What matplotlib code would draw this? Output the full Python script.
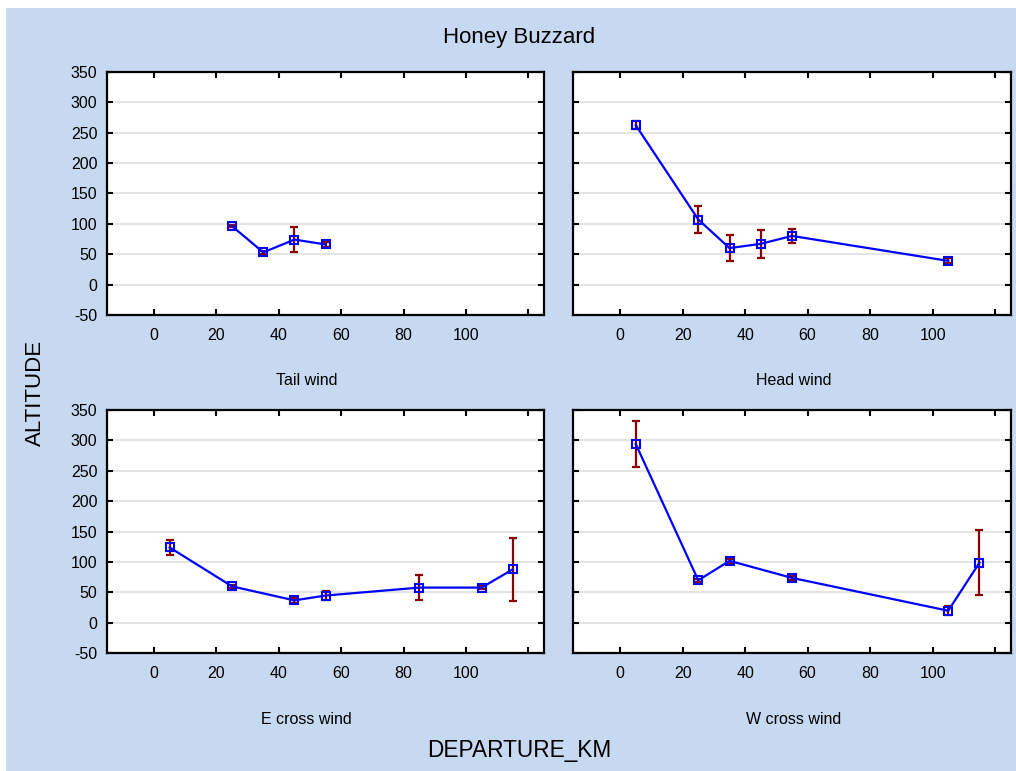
import matplotlib
matplotlib.use("Agg")
import matplotlib.pyplot as plt
from matplotlib.patches import Rectangle

plt.rcParams['font.family'] = ['Liberation Sans', 'DejaVu Sans']
plt.rcParams['axes.unicode_minus'] = False

# Departure distance bins (km) and mean altitude +/- error per wind condition
tail_x = [25, 35, 45, 55]
tail_y = [96, 53, 74, 66]
tail_err = [2, 2, 21, 4]

head_x = [5, 25, 35, 45, 55, 105]
head_y = [262, 107, 60, 67, 80, 39]
head_err = [7, 22, 21, 23, 12, 4]

ecross_x = [5, 25, 45, 55, 85, 105, 115]
ecross_y = [124, 60, 37, 45, 58, 58, 88]
ecross_err = [13, 3, 4, 7, 20, 3, 52]

wcross_x = [5, 25, 35, 55, 105, 115]
wcross_y = [294, 70, 102, 74, 20, 99]
wcross_err = [38, 2, 3, 3, 7, 53]

panel_titles = ["Tail wind", "Head wind", "E cross wind", "W cross wind"]
x_ticks = [0, 20, 40, 60, 80, 100, 120]
x_tick_labels = ["0", "20", "40", "60", "80", "100", ""]
y_ticks = [-50, 0, 50, 100, 150, 200, 250, 300, 350]

W, H = 1016, 771
fig = plt.figure(figsize=(W / 100, H / 100), dpi=100, facecolor="white")
bg = "#C6D9F0"
fig.patches.append(Rectangle((6 / W, 0), 1 - 6 / W, 1 - 8 / H,
                             transform=fig.transFigure, facecolor=bg,
                             edgecolor="none", zorder=-10))

positions = [
    (107.3, 71.7, 544.0, 315.0),
    (573.3, 71.7, 1010.7, 315.0),
    (107.3, 410.0, 544.0, 653.3),
    (573.3, 410.0, 1010.7, 653.3),
]
series = [
    (tail_x, tail_y, tail_err),
    (head_x, head_y, head_err),
    (ecross_x, ecross_y, ecross_err),
    (wcross_x, wcross_y, wcross_err),
]
label_pos = [(306.7, 380.7), (793.3, 380.7), (306.7, 720.0), (793.3, 720.0)]

for i, ((x0, y0, x1, y1), (xs, ys, es)) in enumerate(zip(positions, series)):
    ax = fig.add_axes([x0 / W, 1 - y1 / H, (x1 - x0) / W, (y1 - y0) / H])
    ax.set_facecolor("white")
    ax.set_xlim(-15, 125)
    ax.set_ylim(-50, 350)
    ax.set_xticks(x_ticks)
    ax.set_xticklabels(x_tick_labels)
    ax.set_yticks(y_ticks)
    if i % 2 == 1:
        ax.set_yticklabels([])
    ax.tick_params(direction="in", length=4, width=1.5, top=True, right=True,
                   labelsize=11.5, colors="black", pad=7)
    ax.tick_params(axis="x", pad=9)
    for s in ax.spines.values():
        s.set_linewidth(1.6)
        s.set_color("black")
    ax.yaxis.grid(True, color="#DCDCDC", linewidth=1.1)
    ax.set_axisbelow(True)
    ax.errorbar(xs, ys, yerr=es, fmt="none", ecolor="#8B0000",
                elinewidth=1.6, capsize=3, capthick=1.6, zorder=3)
    ax.plot(xs, ys, color="#0000FF", linewidth=1.6, marker="s",
            markersize=6.2, markerfacecolor="none", markeredgecolor="#0000FF",
            markeredgewidth=1.5, zorder=4)
    lx, ly = label_pos[i]
    fig.text(lx / W, 1 - ly / H, panel_titles[i], ha="center", va="center",
             fontsize=11.5)

fig.text(519 / W, 1 - 38 / H, "Honey Buzzard", ha="center", va="center",
         fontsize=16)
fig.text(519 / W, 1 - 751 / H, "DEPARTURE_KM", ha="center", va="center",
         fontsize=16.3)
fig.text(35 / W, 1 - 393 / H, "ALTITUDE", ha="center", va="center",
         rotation=90, fontsize=16)

fig.savefig("out.png", dpi=100, facecolor="white")
